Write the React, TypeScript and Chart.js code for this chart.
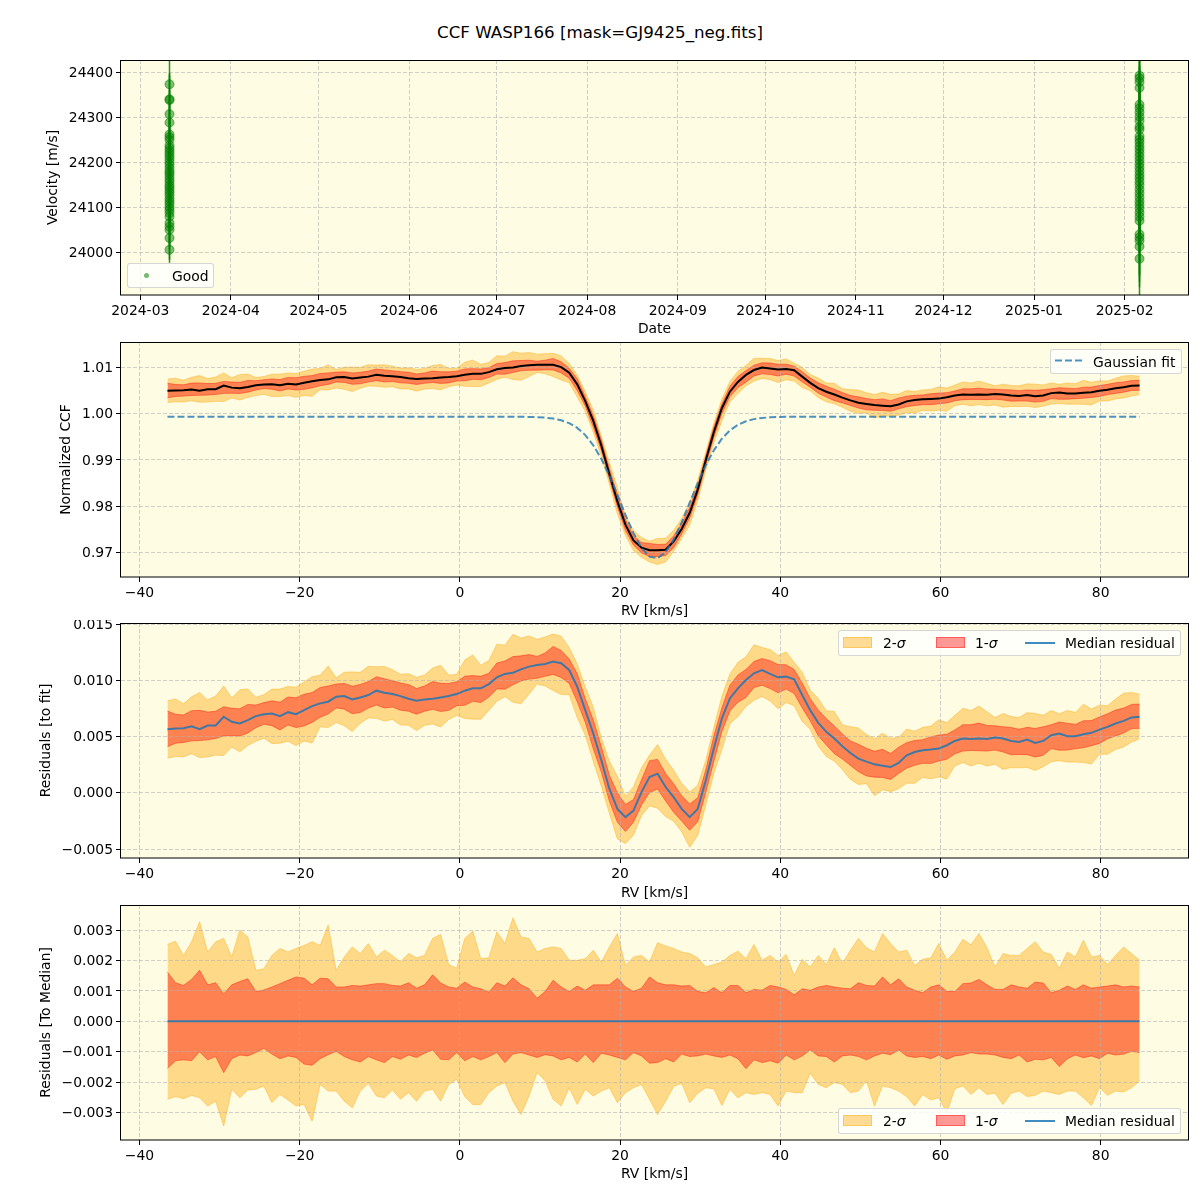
import React, { useEffect, useRef } from 'react';
import { Chart, registerables } from 'chart.js';

Chart.register(...registerables);

const FONT = "'DejaVu Sans', sans-serif";
const FS = 13.9;

// ---------------- Panel 1: velocity time series ----------------
const monthTickLabels = ['2024-03', '2024-04', '2024-05', '2024-06', '2024-07', '2024-08', '2024-09', '2024-10', '2024-11', '2024-12', '2025-01', '2025-02'];
const velocityTicks = [24000, 24100, 24200, 24300, 24400];
const nightDates = ['2024-03-11T00:00:00Z', '2025-02-06T02:00:00Z'];
const rvNight1 = [24373, 24340, 24338, 24307, 24288, 24262, 24256, 24250, 24238, 24232, 24226, 24220, 24214, 24208, 24201, 24195, 24188, 24181, 24176, 24170, 24163, 24157, 24150, 24145, 24139, 24133, 24127, 24120, 24114, 24108, 24101, 24095, 24088, 24080, 24066, 24058, 24051, 24033, 24007];
const errNight1 = [64, 58, 55, 52, 50, 48, 46, 47, 45, 44, 46, 43, 45, 44, 42, 43, 44, 41, 45, 42, 43, 44, 41, 42, 45, 43, 44, 42, 41, 43, 44, 42, 45, 43, 47, 45, 44, 48, 29];
const rvNight2 = [24392, 24386, 24378, 24365, 24328, 24320, 24311, 24301, 24292, 24279, 24273, 24258, 24251, 24244, 24236, 24229, 24221, 24213, 24205, 24197, 24189, 24181, 24173, 24166, 24158, 24150, 24141, 24132, 24123, 24114, 24106, 24098, 24089, 24080, 24071, 24041, 24034, 24027, 24014, 23987];
const errNight2 = [95, 90, 88, 92, 86, 90, 88, 85, 87, 90, 86, 88, 85, 87, 86, 89, 85, 88, 86, 87, 85, 88, 86, 89, 87, 85, 88, 86, 87, 85, 88, 86, 89, 87, 90, 88, 86, 92, 90, 95];

// ---------------- RV grid (km/s) ----------------
const RV_START = -36.5;
const RV_STEP = 1.003;
const RV_COUNT = 122;
const rvTicks = [-40, -20, 0, 20, 40, 60, 80];

const gaussianFit = [
  0.99935, 0.99935, 0.99935, 0.99935, 0.99935, 0.99935, 0.99935, 0.99935, 0.99935, 0.99935,
  0.99935, 0.99935, 0.99935, 0.99935, 0.99935, 0.99935, 0.99935, 0.99935, 0.99935, 0.99935,
  0.99935, 0.99935, 0.99935, 0.99935, 0.99935, 0.99935, 0.99935, 0.99935, 0.99935, 0.99935,
  0.99935, 0.99935, 0.99935, 0.99935, 0.99935, 0.99935, 0.99935, 0.99935, 0.99935, 0.99935,
  0.99935, 0.99935, 0.99935, 0.99935, 0.99935, 0.99931, 0.99926, 0.99916, 0.99896, 0.99859,
  0.99796, 0.99694, 0.99538, 0.99317, 0.99023, 0.98660, 0.98245, 0.97815, 0.97415, 0.97095,
  0.96905, 0.96872, 0.97003, 0.97274, 0.97648, 0.98073, 0.98499, 0.98885, 0.99208, 0.99459,
  0.99639, 0.99761, 0.99838, 0.99884, 0.99909, 0.99923, 0.99930, 0.99935, 0.99935, 0.99935,
  0.99935, 0.99935, 0.99935, 0.99935, 0.99935, 0.99935, 0.99935, 0.99935, 0.99935, 0.99935,
  0.99935, 0.99935, 0.99935, 0.99935, 0.99935, 0.99935, 0.99935, 0.99935, 0.99935, 0.99935,
  0.99935, 0.99935, 0.99935, 0.99935, 0.99935, 0.99935, 0.99935, 0.99935, 0.99935, 0.99935,
  0.99935, 0.99935, 0.99935, 0.99935, 0.99935, 0.99935, 0.99935, 0.99935, 0.99935, 0.99935,
  0.99935, 0.99935,
];

// median residual to the Gaussian fit, in units of 1e-3
const residualMedianMilli = [
  5.65, 5.71, 5.74, 5.92, 5.65, 5.98, 5.98, 6.76, 6.31, 6.16,
  6.46, 6.82, 6.99, 7.05, 6.82, 7.17, 6.99, 7.35, 7.71, 7.95,
  8.10, 8.54, 8.60, 8.30, 8.48, 8.69, 9.08, 8.90, 8.78, 8.60,
  8.36, 8.18, 8.30, 8.36, 8.48, 8.60, 8.78, 9.08, 9.29, 9.29,
  9.67, 10.27, 10.57, 10.68, 10.98, 11.22, 11.37, 11.46, 11.67, 11.52,
  10.92, 9.43, 7.35, 5.27, 2.89, 0.36, -1.43, -2.17, -1.58, 0.06,
  1.40, 1.70, 0.51, -0.39, -1.43, -2.17, -1.43, 1.10, 3.93, 6.61,
  8.39, 9.29, 10.03, 10.63, 10.92, 10.57, 10.27, 10.33, 10.09, 8.69,
  7.35, 6.22, 5.42, 4.82, 4.14, 3.54, 3.04, 2.77, 2.53, 2.41,
  2.29, 2.65, 3.33, 3.63, 3.78, 3.84, 3.93, 4.23, 4.61, 4.82,
  4.79, 4.82, 4.79, 4.91, 4.82, 4.61, 4.52, 4.73, 4.43, 4.61,
  5.12, 5.27, 5.03, 5.03, 5.21, 5.33, 5.62, 5.86, 6.16, 6.40,
  6.70, 6.76,
];

// band edges relative to the median, in units of 1e-3
const sigma2UpperMilli = [
  2.53, 2.64, 2.17, 2.62, 3.28, 2.28, 2.62, 2.73, 2.12, 3.00,
  2.78, 1.68, 1.73, 2.17, 2.40, 2.28, 2.40, 2.50, 2.62, 2.50,
  3.17, 1.68, 2.12, 2.45, 2.23, 2.56, 2.12, 2.34, 2.17, 1.95,
  2.23, 2.09, 2.17, 2.73, 2.86, 1.87, 1.75, 2.73, 2.97, 2.06,
  2.09, 2.95, 2.56, 3.41, 2.78, 2.73, 2.28, 2.40, 2.45, 2.40,
  2.01, 2.01, 2.06, 2.34, 1.95, 2.45, 2.89, 1.84, 2.12, 2.17,
  1.95, 2.59, 2.48, 2.40, 2.28, 2.23, 2.09, 1.79, 1.87, 1.95,
  2.17, 2.31, 2.06, 2.53, 2.01, 2.17, 1.95, 2.20, 1.51, 2.04,
  1.79, 2.17, 1.87, 2.42, 1.90, 2.34, 2.73, 2.42, 2.28, 2.89,
  2.56, 2.28, 2.34, 1.84, 2.04, 2.09, 2.56, 2.01, 2.28, 2.70,
  2.52, 2.89, 2.42, 1.79, 2.23, 2.17, 2.17, 2.40, 2.62, 2.28,
  2.20, 1.75, 2.28, 2.12, 2.67, 2.12, 2.17, 1.87, 2.17, 2.45,
  2.23, 2.01,
];
const sigma1UpperMilli = [
  1.62, 1.27, 1.18, 1.38, 1.68, 1.20, 1.27, 0.90, 1.20, 1.31,
  1.40, 0.98, 1.03, 1.13, 1.24, 1.35, 1.46, 1.42, 1.20, 1.42,
  1.40, 1.13, 1.13, 1.18, 1.16, 1.20, 1.24, 1.24, 1.18, 1.16,
  1.27, 1.09, 1.20, 1.53, 1.26, 1.13, 1.09, 1.29, 1.13, 1.07,
  0.96, 1.27, 1.16, 1.43, 1.20, 1.07, 0.76, 0.98, 1.35, 1.13,
  0.98, 1.16, 1.02, 1.20, 1.20, 1.20, 1.42, 1.13, 0.98, 1.09,
  1.46, 1.27, 1.20, 1.20, 1.16, 1.18, 0.98, 0.94, 1.11, 0.94,
  1.18, 1.18, 0.94, 1.05, 1.02, 1.18, 1.13, 1.05, 0.87, 1.07,
  1.02, 1.13, 1.18, 1.13, 1.09, 1.07, 1.27, 1.18, 1.16, 1.46,
  1.20, 1.40, 1.13, 1.02, 0.94, 1.13, 1.20, 0.98, 0.98, 1.24,
  1.26, 1.38, 1.20, 1.05, 1.05, 1.20, 1.13, 1.09, 1.29, 1.26,
  0.94, 1.02, 1.16, 1.05, 1.20, 1.09, 1.13, 1.16, 1.20, 1.13,
  1.16, 1.13,
];
const sigma1LowerMilli = [
  -1.55, -1.30, -1.27, -1.30, -1.00, -1.27, -1.16, -1.69, -1.23, -1.11,
  -1.14, -1.03, -0.89, -1.08, -1.23, -1.14, -1.19, -1.41, -1.45, -1.23,
  -1.10, -0.99, -1.16, -1.27, -1.34, -1.16, -1.27, -1.36, -1.16, -1.25,
  -1.11, -1.19, -1.05, -0.94, -1.25, -1.27, -1.03, -1.30, -1.16, -1.27,
  -1.16, -1.03, -1.36, -1.08, -1.03, -1.11, -1.19, -1.10, -1.14, -1.27,
  -1.19, -1.34, -1.08, -1.36, -1.05, -1.11, -1.19, -1.27, -1.03, -1.14,
  -1.38, -1.36, -1.23, -1.34, -1.08, -1.16, -1.14, -1.08, -1.14, -1.19,
  -1.11, -1.23, -1.56, -1.27, -1.36, -1.30, -1.38, -1.11, -1.27, -1.14,
  -0.94, -1.14, -1.16, -1.34, -1.14, -1.11, -1.16, -1.27, -1.14, -1.05,
  -1.10, -0.94, -1.14, -1.19, -1.16, -1.23, -1.11, -1.25, -1.14, -1.11,
  -1.03, -1.08, -1.08, -1.11, -1.19, -1.23, -1.11, -1.34, -1.25, -1.27,
  -1.19, -1.49, -1.23, -1.11, -1.20, -1.14, -1.23, -1.05, -1.11, -1.08,
  -0.99, -1.03,
];
const sigma2LowerMilli = [
  -2.57, -2.48, -2.55, -2.44, -2.52, -2.79, -2.63, -3.45, -2.24, -2.52,
  -2.26, -2.24, -2.13, -2.68, -2.41, -2.59, -2.79, -2.74, -3.29, -2.08,
  -2.30, -2.30, -2.63, -2.85, -2.30, -2.04, -2.46, -2.52, -2.26, -2.57,
  -2.35, -2.63, -2.30, -2.24, -2.63, -2.08, -1.91, -2.48, -2.74, -2.74,
  -2.35, -2.13, -2.02, -2.63, -3.07, -2.46, -1.69, -1.96, -2.57, -2.79,
  -2.19, -2.74, -2.24, -2.46, -2.30, -2.19, -2.68, -2.35, -2.19, -2.08,
  -2.57, -3.07, -2.63, -2.15, -2.04, -2.68, -2.37, -2.19, -2.22, -2.77,
  -2.24, -2.52, -2.35, -2.41, -2.35, -2.41, -2.79, -2.30, -2.35, -2.35,
  -1.71, -2.08, -2.19, -2.02, -2.08, -2.35, -2.30, -1.96, -2.79, -2.13,
  -2.19, -2.30, -2.48, -2.79, -2.41, -2.59, -2.52, -3.01, -2.22, -2.13,
  -2.41, -2.19, -2.41, -2.37, -2.74, -2.37, -2.30, -2.48, -2.44, -2.30,
  -2.35, -2.41, -2.30, -2.30, -2.52, -2.77, -2.19, -2.44, -2.30, -2.33,
  -2.19, -1.96,
];

const ccfTicks = [0.97, 0.98, 0.99, 1.0, 1.01];
const residualTicks = [-0.005, 0, 0.005, 0.01, 0.015];
const medianTicks = [-0.003, -0.002, -0.001, 0, 0.001, 0.002, 0.003];

// ---------------- styling ----------------
const AX_BG = 'rgb(254,252,227)';
const GRID = 'rgba(176,176,176,0.6)';
const C_2S = 'rgba(255,165,0,0.4)';
const C_1S = 'rgba(255,0,0,0.4)';
const C_MED = 'rgba(31,119,180,0.85)';
const C_GAUSS = 'rgba(31,119,180,0.8)';

const rvGrid = Array.from({ length: RV_COUNT }, (_, i) => RV_START + i * RV_STEP);
const toXY = (vals: number[]) => vals.map((y, i) => ({ x: rvGrid[i], y }));
const milli = (a: number[]) => a.map((v) => v / 1000);

const fmt = (v: number, d: number) => Number(v).toFixed(d).replace('-', '\u2212');

function fixedTicks(values: number[]) {
  return (scale: any) => {
    scale.ticks = values.map((v) => ({ value: v }));
  };
}

function gridOpts(z: number) {
  return { color: GRID, lineWidth: 1, drawTicks: true, tickLength: 5, tickWidth: 1, tickColor: '#000', z };
}

function yAxis(min: number, max: number, ticks: number[], dec: number, title: string, titlePad: number, z: number) {
  return {
    type: 'linear',
    position: 'left',
    min,
    max,
    afterBuildTicks: fixedTicks(ticks),
    afterFit: (s: any) => {
      s.width = 121;
      s.paddingTop = 0;
      s.paddingBottom = 0;
    },
    grid: gridOpts(z),
    border: { display: false, dash: [4, 2] },
    ticks: { color: '#000', font: { family: FONT, size: FS }, padding: 3, labelOffset: 1, callback: (v: any) => fmt(v, dec) },
    title: { display: true, text: title, color: '#000', font: { family: FONT, size: FS }, padding: { top: titlePad, bottom: 0 } },
  };
}

function rvXAxis(height: number, titlePad: number, z: number) {
  return {
    type: 'linear',
    position: 'bottom',
    min: -42.3,
    max: 90.9,
    afterBuildTicks: fixedTicks(rvTicks),
    afterFit: (s: any) => {
      s.height = height;
      s.paddingLeft = 0;
      s.paddingRight = 0;
    },
    grid: gridOpts(z),
    border: { display: false, dash: [4, 2] },
    ticks: { color: '#000', font: { family: FONT, size: FS }, padding: 3, maxRotation: 0, autoSkip: false, callback: (v: any) => fmt(v, 0) },
    title: { display: true, text: 'RV [km/s]', color: '#000', font: { family: FONT, size: FS }, padding: { top: 0, bottom: titlePad } },
  };
}

function panelPlugin(topLines: number[], errorBars?: { x: number; y: number; err: number }[]) {
  return {
    id: 'panelDeco',
    beforeDraw(chart: any) {
      const { ctx, chartArea: a } = chart;
      ctx.save();
      ctx.fillStyle = AX_BG;
      ctx.fillRect(a.left, a.top, a.right - a.left, a.bottom - a.top);
      ctx.restore();
    },
    beforeDatasetsDraw(chart: any) {
      if (!errorBars) return;
      const { ctx, chartArea: a, scales } = chart;
      ctx.save();
      ctx.beginPath();
      ctx.rect(a.left, a.top, a.right - a.left, a.bottom - a.top);
      ctx.clip();
      ctx.strokeStyle = 'rgba(0,128,0,0.85)';
      ctx.lineWidth = 1.5;
      errorBars.forEach((p) => {
        const px = scales.x.getPixelForValue(p.x);
        ctx.beginPath();
        ctx.moveTo(px, scales.y.getPixelForValue(p.y - p.err));
        ctx.lineTo(px, scales.y.getPixelForValue(p.y + p.err));
        ctx.stroke();
      });
      ctx.restore();
    },
    beforeDatasetDraw(chart: any, args: any) {
      if (topLines.includes(args.index)) return false;
      return true;
    },
    afterDraw(chart: any) {
      const { ctx, chartArea: a } = chart;
      ctx.save();
      ctx.beginPath();
      ctx.rect(a.left, a.top, a.right - a.left, a.bottom - a.top);
      ctx.clip();
      topLines.forEach((i) => chart.getDatasetMeta(i).controller.draw());
      ctx.restore();
      ctx.save();
      ctx.strokeStyle = '#000';
      ctx.lineWidth = 1;
      ctx.strokeRect(Math.round(a.left) - 0.5, Math.round(a.top) + 0.5, Math.round(a.right - a.left) + 1, Math.round(a.bottom - a.top) - 0.5);
      ctx.restore();
    },
  };
}

const baseOptions = (padTop: number) => ({
  responsive: false,
  animation: false,
  devicePixelRatio: 1,
  events: [],
  layout: { padding: { top: padTop, right: 12, left: 0, bottom: 0 } },
  plugins: { legend: { display: false }, tooltip: { enabled: false }, filler: { drawTime: 'beforeDatasetDraw' } },
});

const lineDs = (data: any[], color: string, width: number, extra: any = {}) => ({
  data,
  borderColor: color,
  backgroundColor: color,
  borderWidth: width,
  pointRadius: 0,
  tension: 0,
  fill: false,
  ...extra,
});

function bandDatasets(center: number[]) {
  const u1 = center.map((c, i) => c + sigma1UpperMilli[i] / 1000);
  const l1 = center.map((c, i) => c + sigma1LowerMilli[i] / 1000);
  const u2 = center.map((c, i) => c + sigma2UpperMilli[i] / 1000);
  const l2 = center.map((c, i) => c + sigma2LowerMilli[i] / 1000);
  return [
    lineDs(toXY(u1), C_1S, 1, { fill: '+1', backgroundColor: C_1S }),
    lineDs(toXY(l1), C_1S, 1),
    lineDs(toXY(u2), C_2S, 1, { fill: '+1', backgroundColor: C_2S }),
    lineDs(toXY(l2), C_2S, 1),
  ];
}

// ---------------- chart configs ----------------
function configVelocity() {
  const t0 = Date.parse(nightDates[0]);
  const t1 = Date.parse(nightDates[1]);
  const margin = (t1 - t0) * 0.05;
  const points = [
    ...rvNight1.map((v, i) => ({ x: t0, y: v, err: errNight1[i] })),
    ...rvNight2.map((v, i) => ({ x: t1, y: v, err: errNight2[i] })),
  ];
  const monthValues = monthTickLabels.map((m) => Date.parse(m + '-01T00:00:00Z'));
  return {
    type: 'scatter',
    data: {
      datasets: [
        {
          label: 'Good',
          data: points.map((p) => ({ x: p.x, y: p.y })),
          pointRadius: 4.5,
          pointBackgroundColor: 'rgba(0,128,0,0.5)',
          pointBorderColor: 'rgba(0,128,0,0.55)',
          pointBorderWidth: 1,
          showLine: false,
        },
      ],
    },
    options: {
      ...baseOptions(15),
      scales: {
        x: {
          type: 'linear',
          position: 'bottom',
          min: t0 - margin,
          max: t1 + margin,
          afterBuildTicks: fixedTicks(monthValues),
          afterFit: (s: any) => {
            s.height = 43;
            s.paddingLeft = 0;
            s.paddingRight = 0;
          },
          grid: gridOpts(-1),
          border: { display: false, dash: [4, 2] },
          ticks: { color: '#000', font: { family: FONT, size: FS }, padding: 3, maxRotation: 0, autoSkip: false, callback: (_v: any, i: number) => monthTickLabels[i] },
          title: { display: true, text: 'Date', color: '#000', font: { family: FONT, size: FS }, padding: { top: 0, bottom: 0 } },
        },
        y: yAxis(23906.8, 24426.6, velocityTicks, 0, 'Velocity [m/s]', 44.7, -1),
      },
    },
    plugins: [panelPlugin([], points)],
  };
}

function configCCF() {
  const ccf = gaussianFit.map((g, i) => g + residualMedianMilli[i] / 1000);
  return {
    type: 'line',
    data: {
      datasets: [
        lineDs(toXY(ccf), '#000', 2),
        lineDs(toXY(gaussianFit), C_GAUSS, 2, { borderDash: [7, 3] }),
        ...bandDatasets(ccf),
      ],
    },
    options: {
      ...baseOptions(4),
      scales: {
        x: rvXAxis(43, 0, 1),
        y: yAxis(0.96465, 1.01554, ccfTicks, 2, 'Normalized CCF', 57.7, 1),
      },
    },
    plugins: [panelPlugin([0, 1])],
  };
}

function configResidual() {
  const med = milli(residualMedianMilli);
  return {
    type: 'line',
    data: { datasets: [lineDs(toXY(med), C_MED, 2), ...bandDatasets(med)] },
    options: {
      ...baseOptions(3),
      scales: {
        x: rvXAxis(44, 0, 1),
        y: yAxis(-0.0058, 0.0151, residualTicks, 3, 'Residuals [to fit]', 37.7, 1),
      },
    },
    plugins: [panelPlugin([0])],
  };
}

function configToMedian() {
  const zero = residualMedianMilli.map((m) => (m - m) / 1000);
  return {
    type: 'line',
    data: { datasets: [lineDs(toXY(zero), C_MED, 2), ...bandDatasets(zero)] },
    options: {
      ...baseOptions(3),
      scales: {
        x: rvXAxis(60, 17.7, 1),
        y: yAxis(-0.00391, 0.00383, medianTicks, 3, 'Residuals [To Median]', 37.7, 1),
      },
    },
    plugins: [panelPlugin([0])],
  };
}

// ---------------- components ----------------
function ChartCanvas({ top, height, makeConfig }: { top: number; height: number; makeConfig: () => any }) {
  const ref = useRef<HTMLCanvasElement>(null);
  useEffect(() => {
    const chart = new Chart(ref.current as HTMLCanvasElement, makeConfig());
    return () => chart.destroy();
  }, []);
  return <canvas ref={ref} width={1200} height={height} style={{ position: 'absolute', left: 0, top, width: 1200, height }} />;
}

const textStyle = (left: number, cy: number): React.CSSProperties => ({
  position: 'absolute',
  left,
  top: cy - 9,
  lineHeight: '18px',
  fontFamily: FONT,
  fontSize: FS,
  color: '#000',
  whiteSpace: 'nowrap',
});

const boxStyle = (left: number, top: number, width: number, height: number): React.CSSProperties => ({
  position: 'absolute',
  left,
  top,
  width,
  height,
  background: 'rgba(255,255,255,0.8)',
  border: '1px solid rgba(204,204,204,0.8)',
  borderRadius: 3,
  boxSizing: 'border-box',
});

const Sig = () => <span style={{ fontStyle: 'italic' }}>σ</span>;

function SigmaLegend({ top }: { top: number }) {
  const cy = top + 13;
  return (
    <>
      <div style={boxStyle(838, top, 343, 26)} />
      <div style={{ position: 'absolute', left: 843, top: cy - 6, width: 29, height: 11, background: C_2S, border: `1px solid ${C_2S}`, boxSizing: 'border-box' }} />
      <div style={textStyle(883, cy)}>
        2-<Sig />
      </div>
      <div style={{ position: 'absolute', left: 936, top: cy - 6, width: 29, height: 11, background: C_1S, border: `1px solid ${C_1S}`, boxSizing: 'border-box' }} />
      <div style={textStyle(975, cy)}>
        1-<Sig />
      </div>
      <div style={{ position: 'absolute', left: 1025, top: cy - 1, width: 30, height: 2, background: C_MED }} />
      <div style={textStyle(1065, cy)}>Median residual</div>
    </>
  );
}

export default function App() {
  return (
    <div style={{ position: 'absolute', left: 0, top: 0, width: 1200, height: 1200, background: '#fff', overflow: 'hidden' }}>
      <div style={{ position: 'absolute', left: 0, top: 22, width: 1200, textAlign: 'center', fontFamily: FONT, fontSize: 16.7, lineHeight: '20px', color: '#000' }}>
        CCF WASP166 [mask=GJ9425_neg.fits]
      </div>
      <ChartCanvas top={45} height={293} makeConfig={configVelocity} />
      <ChartCanvas top={338} height={282} makeConfig={configCCF} />
      <ChartCanvas top={620} height={282} makeConfig={configResidual} />
      <ChartCanvas top={902} height={298} makeConfig={configToMedian} />

      {/* Panel 1 legend */}
      <div style={boxStyle(127, 263, 87, 25)} />
      <div style={{ position: 'absolute', left: 144, top: 272.5, width: 5, height: 5, borderRadius: '50%', background: 'rgba(0,128,0,0.55)' }} />
      <div style={textStyle(172, 275.5)}>Good</div>

      {/* Panel 2 legend */}
      <div style={boxStyle(1050, 349, 132, 25)} />
      <svg style={{ position: 'absolute', left: 1054, top: 356, width: 30, height: 10 }} width={30} height={10}>
        <line x1={1} y1={4.5} x2={29} y2={4.5} stroke={C_GAUSS} strokeWidth={2} strokeDasharray="7 3" />
      </svg>
      <div style={textStyle(1093, 361.5)}>Gaussian fit</div>

      {/* Panel 3 and 4 legends */}
      <SigmaLegend top={630} />
      <SigmaLegend top={1108} />
    </div>
  );
}
